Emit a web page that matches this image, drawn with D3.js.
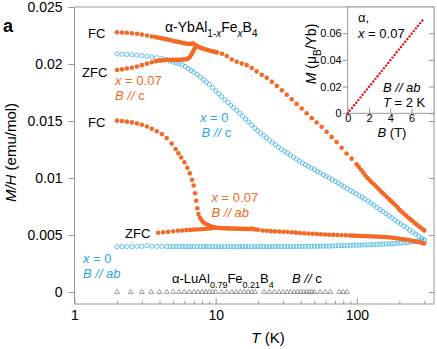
<!DOCTYPE html>
<html>
<head>
<meta charset="utf-8">
<script src="https://cdn.jsdelivr.net/npm/d3@7"></script>
<style>
body{margin:0;background:#fff;}
svg{display:block;font-family:'Liberation Sans',Arial,Helvetica,sans-serif;}
text{white-space:pre;}
</style>
</head>
<body>
<svg class="mh-chart"></svg>
<script>
"use strict";

// temperatures (K)
var tLow = [2.0, 2.17, 2.35, 2.55, 2.77, 3.0, 3.26, 3.53, 3.83, 4.16, 4.51];
var tDense = [4.75, 5.0, 5.25, 5.5, 5.8, 6.1, 6.4, 6.7, 7.0, 7.4, 7.8, 8.2, 8.6, 9.0, 9.5,
  10.0, 10.5, 11.0, 11.6, 12.2, 12.8, 13.4, 14.1, 14.8, 15.5, 16.3, 17.1, 18.0, 18.9, 19.8,
  20.8, 21.8, 22.9, 24.0, 25.2, 26.5, 27.8, 29.2, 30.7, 32.2, 33.8, 35.5, 37.3, 39.2, 41.1,
  43.2, 45.3, 47.6, 50.0, 52.5, 55.1, 57.9, 60.8, 63.8, 67.0, 70.3, 73.9, 77.5, 81.4, 85.5,
  89.8, 94.3, 99.0, 104, 109, 114, 120, 126, 132, 139, 146, 153, 161, 169, 177,
  186, 195, 205, 215, 226, 237, 249, 261, 274, 288, 300];

// x = 0, B // c
var c0Low = [0.02088, 0.02086, 0.02084, 0.02081, 0.02077, 0.02073, 0.02068, 0.02062, 0.02056, 0.02049, 0.02040];
var c0Dense = [0.02026, 0.02017, 0.02009, 0.02002, 0.01993, 0.01978, 0.0196, 0.01943, 0.01927, 0.01908,
  0.01886, 0.01863, 0.01842, 0.01821, 0.01793, 0.01765, 0.01739, 0.01714, 0.01687, 0.01662,
  0.01639, 0.01617, 0.01593, 0.01568, 0.01543, 0.01517, 0.01491, 0.01464, 0.01438, 0.01415,
  0.01394, 0.01374, 0.01353, 0.01333, 0.01313, 0.01292, 0.01271, 0.01252, 0.01235, 0.01218,
  0.01200, 0.01183, 0.01165, 0.01148, 0.01132, 0.01117, 0.01103, 0.01088, 0.01074, 0.01059,
  0.01045, 0.01030, 0.01015, 0.01001, 0.00986, 0.00971, 0.00955, 0.00940, 0.00924, 0.00908,
  0.00892, 0.00877, 0.00861, 0.00845, 0.00830, 0.00815, 0.00797, 0.00779, 0.00762, 0.00742,
  0.00723, 0.00706, 0.00687, 0.00668, 0.00651, 0.00632, 0.00614, 0.00596, 0.00579, 0.00561,
  0.00543, 0.00525, 0.00508, 0.00490, 0.00472, 0.00458];

// x = 0, B // ab
var ab0Low = [0.00398, 0.00398, 0.00399, 0.00399, 0.00400, 0.00401, 0.00406, 0.00402, 0.00400, 0.00400, 0.00399];
var ab0Dense = [0.00399, 0.00399, 0.00398, 0.00399, 0.00400, 0.00399, 0.00398, 0.00398, 0.00399, 0.00399,
  0.00398, 0.00398, 0.00399, 0.00398, 0.00398, 0.00398, 0.00397, 0.00398, 0.00398, 0.00399,
  0.00398, 0.00397, 0.00397, 0.00398, 0.00398, 0.00399, 0.00398, 0.00397, 0.00398, 0.00397,
  0.00398, 0.00398, 0.00399, 0.00398, 0.00398, 0.00399, 0.00399, 0.00398, 0.00399, 0.00399,
  0.00398, 0.00399, 0.00399, 0.00400, 0.00400, 0.00400, 0.00401, 0.00401, 0.00401, 0.00402,
  0.00402, 0.00402, 0.00403, 0.00403, 0.00404, 0.00405, 0.00406, 0.00406, 0.00407, 0.00408,
  0.00409, 0.00410, 0.00410, 0.00411, 0.00412, 0.00413, 0.00414, 0.00415, 0.00416, 0.00417,
  0.00419, 0.00420, 0.00421, 0.00423, 0.00424, 0.00426, 0.00428, 0.00430, 0.00432, 0.00434,
  0.00437, 0.00440, 0.00443, 0.00447, 0.00451, 0.00455];

// x = 0.07, B // c, FC (merged with ZFC above ~7 K)
var c07fcT = [2.0, 2.17, 2.35, 2.55, 2.77, 3.0, 3.26, 3.53, 3.75, 3.9, 4.05, 4.2, 4.35, 4.5,
  4.7, 4.9, 5.1, 5.3, 5.5, 5.7, 5.9, 6.1, 6.3, 6.5, 6.7, 6.9, 7.1, 7.3, 7.5, 7.7, 7.9,
  8.1, 8.4, 8.7, 9.0, 9.3, 9.6, 9.9, 10.2, 11.1, 12.0, 13.0, 14.1, 15.3, 16.6, 18.0, 19.5,
  21.2, 23.0, 25.0, 27.1, 29.4, 31.9, 34.6, 37.5, 40.7, 44.1, 47.9, 51.9, 56.3, 61.1, 66.3,
  71.9, 78.0, 84.6, 91.8, 99.6, 103, 107, 111, 115, 119, 123, 127, 132, 137, 142, 147, 152,
  157, 163, 169, 175, 181, 188, 195, 202, 209, 216, 224, 232, 240, 248, 257, 266, 275, 285, 295, 300];
var c07fcM = [0.02278, 0.02276, 0.02274, 0.02270, 0.02265, 0.02258, 0.02250, 0.02242, 0.02236, 0.02232,
  0.02228, 0.02224, 0.02220, 0.02216, 0.02212, 0.02206, 0.02200, 0.02196, 0.02192, 0.02188,
  0.02184, 0.02180, 0.02178, 0.02176, 0.02178, 0.02182, 0.02170, 0.02160, 0.02152, 0.02146,
  0.02140, 0.02136, 0.02130, 0.02124, 0.02118, 0.02114, 0.02110, 0.02106, 0.02102, 0.02090,
  0.02070, 0.02040, 0.02020, 0.02005, 0.01990, 0.01965, 0.01935, 0.01905, 0.01880, 0.01845,
  0.01808, 0.01770, 0.01730, 0.01690, 0.01650, 0.01610, 0.01568, 0.01525, 0.01487, 0.01450,
  0.01405, 0.01360, 0.01315, 0.01265, 0.01215, 0.01170, 0.01120, 0.01098, 0.01072, 0.01048,
  0.01022, 0.01000, 0.00982, 0.00965, 0.00945, 0.00925, 0.00905, 0.00886, 0.00869, 0.00853,
  0.00834, 0.00815, 0.00797, 0.00780, 0.00761, 0.00740, 0.00718, 0.00702, 0.00686, 0.00669,
  0.00652, 0.00637, 0.00622, 0.00606, 0.00591, 0.00577, 0.00562, 0.00548, 0.00540];

// x = 0.07, B // c, ZFC
var c07zfcT = [2.0, 2.17, 2.35, 2.55, 2.77, 3.0, 3.26, 3.53, 3.75, 3.9, 4.05, 4.2, 4.35, 4.5,
  4.7, 4.9, 5.1, 5.3, 5.5, 5.7, 5.9, 6.1, 6.3, 6.45, 6.6, 6.75, 6.9, 7.05, 7.2, 7.35];
var c07zfcM = [0.01947, 0.01953, 0.01960, 0.01967, 0.01978, 0.01990, 0.02003, 0.02016, 0.02024, 0.02028,
  0.02031, 0.02033, 0.02034, 0.02035, 0.02035, 0.02036, 0.02036, 0.02036, 0.02037, 0.02038,
  0.02039, 0.02041, 0.02045, 0.02052, 0.02065, 0.02085, 0.02108, 0.02130, 0.02148, 0.02158];

// x = 0.07, B // ab, FC (merged with ZFC above ~10 K)
var ab07fcT = [2.0, 2.17, 2.35, 2.55, 2.77, 3.0, 3.26, 3.53, 3.83, 4.16, 4.5, 4.88, 5.2, 5.44,
  5.7, 6.0, 6.3, 6.56, 6.8, 6.98, 7.14, 7.28, 7.42, 7.55, 7.75, 7.95, 8.2, 8.5, 8.83, 9.2,
  9.6, 10.0, 10.4, 10.8, 11.2, 11.6, 12.0, 12.4, 12.8, 13.2, 13.7, 14.2, 14.7, 15.2, 15.7,
  16.2, 16.8, 17.4, 18.0, 18.6, 19.2, 20.0, 21.5, 23.0, 24.6, 26.3, 28.2, 30.2, 32.3, 34.6,
  37.0, 39.6, 42.4, 45.4, 48.6, 52.0, 55.6, 59.5, 63.7, 68.2, 73.0, 78.1, 83.6, 89.4, 93,
  97, 101, 105, 110, 115, 120, 126, 132, 138, 144, 151, 158, 165, 173, 181, 189, 197, 206,
  215, 225, 235, 245, 256, 267, 279, 290, 300];
var ab07fcM = [0.01503, 0.01500, 0.01495, 0.01488, 0.01478, 0.01467, 0.01452, 0.01432, 0.01410, 0.01385,
  0.01350, 0.01302, 0.01255, 0.01217, 0.01180, 0.01138, 0.01090, 0.01041, 0.00985, 0.00935,
  0.00866, 0.00800, 0.00735, 0.00685, 0.00652, 0.00630, 0.00610, 0.00598, 0.00588, 0.00578,
  0.00571, 0.00566, 0.00563, 0.00561, 0.00560, 0.00559, 0.00558, 0.00558, 0.00557, 0.00557,
  0.00556, 0.00556, 0.00555, 0.00555, 0.00554, 0.00554, 0.00553, 0.00553, 0.00556, 0.00550,
  0.00548, 0.00546, 0.00540, 0.00537, 0.00534, 0.00532, 0.00530, 0.00528, 0.00526, 0.00524,
  0.00521, 0.00518, 0.00516, 0.00513, 0.00511, 0.00509, 0.00507, 0.00505, 0.00503, 0.00501,
  0.00500, 0.00498, 0.00497, 0.00496, 0.00495, 0.00494, 0.00493, 0.00492, 0.00491, 0.00490,
  0.00489, 0.00488, 0.00487, 0.00486, 0.00485, 0.00484, 0.00482, 0.00480, 0.00478, 0.00475,
  0.00472, 0.00469, 0.00465, 0.00462, 0.00458, 0.00455, 0.00450, 0.00446, 0.00441, 0.00436,
  0.00430, 0.00425];

// x = 0.07, B // ab, ZFC
var ab07zfcT = [3.92, 4.25, 4.6, 5.0, 5.4, 5.8, 6.2, 6.6, 7.0, 7.4, 7.8, 8.2, 8.6, 9.0, 9.4, 9.8];
var ab07zfcM = [0.00520, 0.00524, 0.00528, 0.00533, 0.00537, 0.00540, 0.00543, 0.00545,
  0.00547, 0.00549, 0.00551, 0.00553, 0.00555, 0.00557, 0.00559, 0.00561];

// alpha-LuAl0.79Fe0.21B4, B // c
var luT = [2, 2.5, 3, 3.5, 4, 4.5, 5, 5.5, 6, 6.5, 7, 7.5, 8, 8.5, 9, 9.5, 10, 11, 12, 13, 14,
  15, 16, 17, 18, 19, 22, 24, 26, 28, 30, 32, 34, 36, 38, 40, 42, 44, 46, 48, 50, 55, 60, 65, 75, 80, 85];
var luM = [0, 0, 0, 0, 0, 0, 0, 0, 0, 0, 0, 0, 0, 0, 0, 0, 0, 0, 0, 0, 0, 0, 0, 0, 0, 0, 0, 0,
  0, 0, 0, 0, 0, 0, 0, 0, 0, 0, 0, 0, 0, 0, 0, 0, 0, 0, 0];

// inset M(B), T = 2 K
var insetB = [0, 0.2, 0.4, 0.6, 0.8, 1.0, 1.2, 1.4, 1.6, 1.8, 2.0, 2.2, 2.4, 2.6, 2.8, 3.0, 3.2, 3.4,
  3.6, 3.8, 4.0, 4.2, 4.4, 4.6, 4.8, 5.0, 5.2, 5.4, 5.6, 5.8, 6.0, 6.2, 6.4, 6.6, 6.8, 7.0];
var insetM = [0, 0.0020, 0.0040, 0.0060, 0.0079, 0.0099, 0.0119, 0.0139, 0.0159, 0.0179, 0.0199,
  0.0218, 0.0238, 0.0258, 0.0278, 0.0298, 0.0318, 0.0338, 0.0357, 0.0377, 0.0397, 0.0417,
  0.0437, 0.0457, 0.0477, 0.0497, 0.0516, 0.0536, 0.0556, 0.0576, 0.0596, 0.0616, 0.0636,
  0.0655, 0.0675, 0.0695];

// ticks
var yTicks = [0, 0.005, 0.01, 0.015, 0.02, 0.025];
var yTickLabels = ['0', '0.005', '0.01', '0.015', '0.02', '0.025'];
var xMajor = [1, 10, 100];
var xMajorLabels = ['1', '10', '100'];
var xMinor = [2, 3, 4, 5, 6, 7, 8, 9, 20, 30, 40, 50, 60, 70, 80, 90, 200, 300];
var iyTicks = [0, 0.02, 0.04, 0.06];
var iyTickLabels = ['0', '0.02', '0.04', '0.06'];
var ixTicks = [0, 2, 4, 6];
var ixTickLabels = ['0', '2', '4', '6'];

var ORANGE = '#f26a23';
var BLUE = '#3cb2e6';
var BLUE_TXT = '#2aa8e0';
var RED = '#e3151f';
var AXIS = '#999';

var svg = d3.select('.mh-chart')
  .attr('width', 437)
  .attr('height', 349);

var plot = {left: 74.5, right: 434, top: 7, bottom: 304};

var x = d3.scaleLog()
  .domain([1, 352])
  .range([plot.left, plot.right]);

var y = d3.scaleLinear()
  .domain([-0.00105, 0.025])
  .range([plot.bottom, plot.top]);

function styleAxis(g, size){
  g.select('.domain').remove();
  g.selectAll('.tick line').attr('stroke', AXIS);
  g.selectAll('.tick text').attr('fill', '#000').style('font-size', size + 'px')
    .style('font-family', "'Liberation Sans', Arial, sans-serif");
}

// frame
svg.append('rect')
  .attr('x', plot.left).attr('y', plot.top)
  .attr('width', plot.right - plot.left).attr('height', plot.bottom - plot.top)
  .attr('fill', 'none').attr('stroke', AXIS).attr('stroke-width', 1);

svg.append('g')
  .attr('transform', 'translate(' + plot.left + ',0)')
  .call(d3.axisLeft(y).tickValues(yTicks)
    .tickFormat(function(d, i){return yTickLabels[i]})
    .tickSize(6).tickPadding(6))
  .call(styleAxis, 14);

svg.append('g')
  .attr('transform', 'translate(' + plot.right + ',0)')
  .call(d3.axisRight(y).tickValues(yTicks).tickFormat('').tickSize(-5))
  .call(styleAxis, 14);

svg.append('g')
  .attr('transform', 'translate(0,' + plot.bottom + ')')
  .call(d3.axisBottom(x).tickValues(xMajor)
    .tickFormat(function(d, i){return xMajorLabels[i]})
    .tickSize(-6).tickPadding(6))
  .call(styleAxis, 14);

svg.append('g')
  .attr('transform', 'translate(0,' + plot.bottom + ')')
  .call(d3.axisBottom(x).tickValues(xMinor).tickFormat('').tickSize(-3))
  .call(styleAxis, 14);

// rich text: parts = [[text, 'i' | 'sub' | 'b' | undefined], ...]
function rich(g, px, py, parts, size, color, opts){
  opts = opts || {};
  var t = g.append('text')
    .attr('x', px).attr('y', py)
    .attr('font-size', size)
    .attr('fill', color);
  if (opts.anchor) t.attr('text-anchor', opts.anchor);
  if (opts.rotate) t.attr('transform', 'rotate(' + opts.rotate + ',' + px + ',' + py + ')');
  var shift = 0;
  parts.forEach(function(p){
    var s = t.append('tspan').text(p[0]);
    var dy;
    if (p[1] === 'sub') {
      dy = 5 - shift; shift = 5;
      s.attr('font-size', Math.round(size * 0.72));
      if (p[2]) s.attr('font-style', 'italic');
    } else {
      dy = -shift; shift = 0;
      if (p[1] === 'i') s.attr('font-style', 'italic');
      if (p[1] === 'b') s.attr('font-weight', 'bold');
    }
    if (dy) s.attr('dy', dy);
  });
  return t;
}

// Lu reference (triangles)
svg.append('g').selectAll('path')
  .data(d3.zip(luT, luM))
  .enter().append('path')
    .attr('d', d3.symbol().type(d3.symbolTriangle).size(10))
    .attr('transform', function(d){return 'translate(' + x(d[0]) + ',' + y(d[1]) + ')'})
    .attr('fill', 'none')
    .attr('stroke', '#777')
    .attr('stroke-width', 0.7);

// x = 0 open circles
function openCircles(T, M){
  svg.append('g').selectAll('circle')
    .data(d3.zip(T, M))
    .enter().append('circle')
      .attr('cx', function(d){return x(d[0])})
      .attr('cy', function(d){return y(d[1])})
      .attr('r', 2.1)
      .attr('fill', 'none')
      .attr('stroke', BLUE)
      .attr('stroke-width', 0.8);
}
openCircles(tLow.concat(tDense), c0Low.concat(c0Dense));
openCircles(tLow.concat(tDense), ab0Low.concat(ab0Dense));

// x = 0.07 filled dots
function filledDots(T, M){
  svg.append('g').selectAll('circle')
    .data(d3.zip(T, M))
    .enter().append('circle')
      .attr('cx', function(d){return x(d[0])})
      .attr('cy', function(d){return y(d[1])})
      .attr('r', 2.3)
      .style('fill', ORANGE);
}
filledDots(c07fcT, c07fcM);
filledDots(c07zfcT, c07zfcM);
filledDots(ab07fcT, ab07fcM);
filledDots(ab07zfcT, ab07zfcM);

// labels
var lab = svg.append('g');
rich(lab, 3, 32, [['a', 'b']], 18, '#000');
rich(lab, 165, 31.5, [['\u03b1-YbAl'], ['1-', 'sub'], ['x', 'sub', true], ['Fe'], ['x', 'sub', true], ['B'], ['4', 'sub']], 14, '#000');
rich(lab, 88, 38, [['FC']], 13, '#000');
rich(lab, 82, 76.5, [['ZFC']], 13, '#000');
rich(lab, 115, 85, [['x', 'i'], [' = 0.07']], 13, ORANGE);
rich(lab, 115, 100, [['B // ', 'i'], ['c']], 13, ORANGE);
rich(lab, 88, 126.5, [['FC']], 13, '#000');
rich(lab, 200, 121.5, [['x', 'i'], [' = 0']], 13, BLUE_TXT);
rich(lab, 201.5, 136.5, [['B // ', 'i'], ['c']], 13, BLUE_TXT);
rich(lab, 211.5, 201.5, [['x', 'i'], [' = 0.07']], 13, ORANGE);
rich(lab, 211.5, 216.5, [['B // ab', 'i']], 13, ORANGE);
rich(lab, 125, 238, [['ZFC']], 13, '#000');
rich(lab, 83, 263, [['x', 'i'], [' = 0']], 13, BLUE_TXT);
rich(lab, 83, 278, [['B // ab', 'i']], 13, BLUE_TXT);
rich(lab, 172, 283, [['\u03b1-LuAl'], ['0.79', 'sub'], ['Fe'], ['0.21', 'sub'], ['B'], ['4', 'sub']], 13, '#000');
rich(lab, 292, 283, [['B // ', 'i'], ['c']], 13, '#000');

// axis titles
rich(lab, 16, 152.5, [['M/H', 'i'], [' (emu/mol)']], 15, '#000', {anchor: 'middle', rotate: -90});
rich(lab, 268, 343, [['T', 'i'], [' (K)']], 15, '#000', {anchor: 'middle'});

// inset
var inset = {left: 347.7, right: 434, top: 7, bottom: 113.3};
var ix = d3.scaleLinear().domain([0, 8.1]).range([inset.left, inset.right]);
var iy = d3.scaleLinear().domain([0, 0.0796]).range([inset.bottom, inset.top]);

svg.append('rect')
  .attr('x', inset.left).attr('y', inset.top)
  .attr('width', inset.right - inset.left).attr('height', inset.bottom - inset.top)
  .attr('fill', '#fff').attr('stroke', AXIS).attr('stroke-width', 1);

svg.append('g')
  .attr('transform', 'translate(' + inset.left + ',0)')
  .call(d3.axisLeft(iy).tickValues(iyTicks)
    .tickFormat(function(d, i){return iyTickLabels[i]})
    .tickSize(5).tickPadding(1))
  .call(styleAxis, 11);

svg.append('g')
  .attr('transform', 'translate(' + inset.right + ',0)')
  .call(d3.axisRight(iy).tickValues(iyTicks).tickFormat('').tickSize(-5))
  .call(styleAxis, 11);

svg.append('g')
  .attr('transform', 'translate(0,' + inset.bottom + ')')
  .call(d3.axisBottom(ix).tickValues(ixTicks)
    .tickFormat(function(d, i){return ixTickLabels[i]})
    .tickSize(-5).tickPadding(1))
  .call(styleAxis, 11);

svg.append('g').selectAll('circle')
  .data(d3.zip(insetB, insetM))
  .enter().append('circle')
    .attr('cx', function(d){return ix(d[0])})
    .attr('cy', function(d){return iy(d[1])})
    .attr('r', 1.2)
    .style('fill', RED);

rich(lab.raise(), 358, 22, [['\u03b1,']], 13, '#000');
rich(lab, 358, 38, [['x', 'i'], [' = 0.07']], 13, '#000');
rich(lab, 383, 91.5, [['B // ab', 'i']], 13, '#000');
rich(lab, 383, 106.5, [['T', 'i'], [' = 2 K']], 13, '#000');
rich(lab, 392, 136.5, [['B', 'i'], [' (T)']], 13, '#000', {anchor: 'middle'});
rich(lab, 316, 54, [['M', 'i'], [' (\u03bc'], ['B', 'sub'], ['/Yb)']], 14, '#000', {anchor: 'middle', rotate: -90});
</script>
</body>
</html>
